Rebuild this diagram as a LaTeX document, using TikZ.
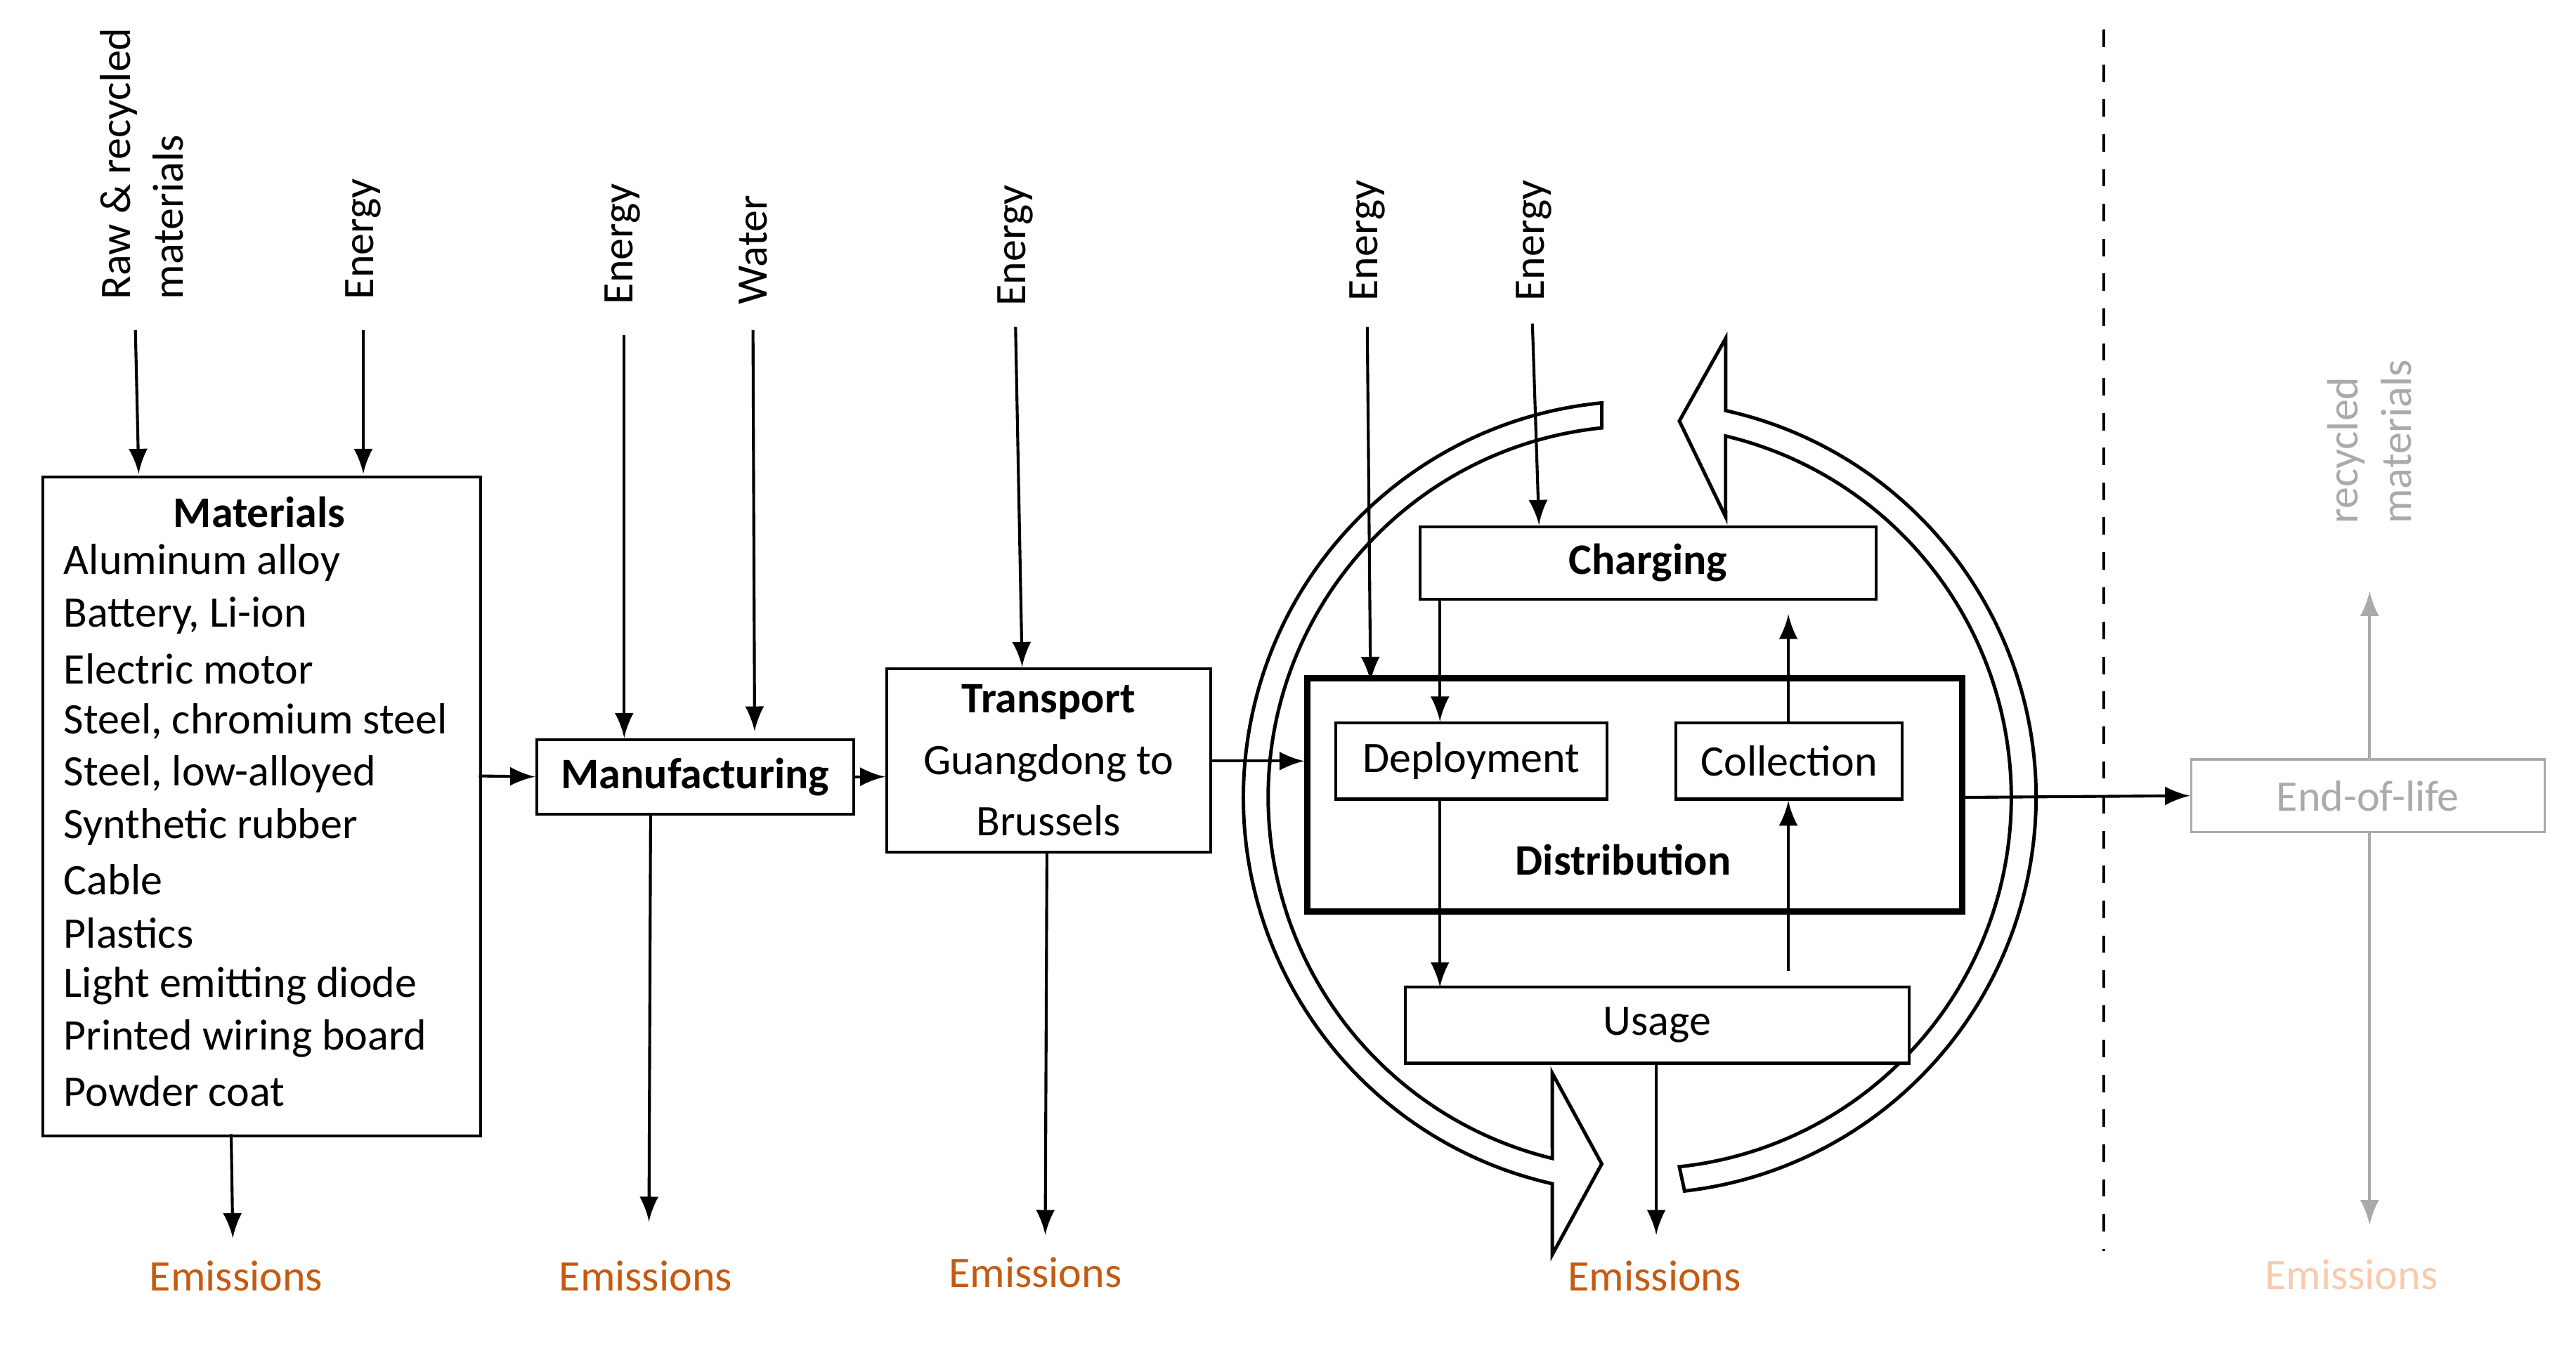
\documentclass[tikz,border=0pt]{standalone}
\usepackage{fontspec}
\setmainfont{Carlito}
\begin{document}
\begin{tikzpicture}[x=0.01cm,y=-0.01cm,
  every node/.style={font=\fontsize{7.5}{9.1}\selectfont, inner sep=0pt},
  box/.style={draw, line width=0.5pt},
  arr/.style={-latex, line width=0.5pt},
  lab/.style={rotate=90, anchor=west, align=left},
  em/.style={text=emc},
  gr/.style={draw=grayc}]
\definecolor{emc}{RGB}{197,90,17}
\definecolor{emlc}{RGB}{248,203,173}
\definecolor{grayc}{RGB}{170,170,170}
\useasboundingbox (0,0) rectangle (1560,815);
% circular arrows
\begin{scope}[shift={(993,483)}, yscale=-1, line width=0.6pt]
\draw[fill=white] (95.87:225) arc[start angle=95.87,end angle=256.4,radius=225] -- (-53,-167) -- (-23,-222) -- (-53,-277) -- (-53,-234) arc[start angle=257.24,end angle=95.5,radius=240] -- cycle;
\draw[fill=white] (276.12:225) arc[start angle=276.12,end angle=436.64,radius=225] -- (52,170) -- (24,228) -- (52,278) -- (52,234.3) arc[start angle=437.48,end angle=276.5,radius=240] -- cycle;
\end{scope}
% boxes
\node[box, minimum width=2.65cm, minimum height=3.99cm, anchor=north west] (mat) at (25,288) {};
\node[font=\fontsize{7.5}{9.1}\selectfont\bfseries] at (157,310) {Materials};
\foreach \t [count=\i from 0] in {Aluminum alloy,{Battery, Li-ion},Electric motor,{Steel, chromium steel},{Steel, low-alloyed},Synthetic rubber,Cable,Plastics,Light emitting diode,Printed wiring board,Powder coat}
  \node[anchor=west] at (38,341+32*\i) {\t};
\node[box, minimum width=1.92cm, minimum height=0.45cm, font=\fontsize{7.5}{9.1}\selectfont\bfseries] (man) at (421,470.5) {Manufacturing};
\node[box, minimum width=1.96cm, minimum height=1.11cm, align=center] (tra) at (635,460.5) {\textbf{Transport}\\[1.5pt]Guangdong to\\[1.5pt]Brussels};
\node[draw, line width=1.1pt, minimum width=3.96cm, minimum height=1.41cm] (dis) at (990,481.5) {};
\node[font=\fontsize{7.5}{9.1}\selectfont\bfseries] at (983,521) {Distribution};
\node[box, minimum width=1.64cm, minimum height=0.46cm] (dep) at (891,461) {Deployment};
\node[box, minimum width=1.37cm, minimum height=0.46cm] (col) at (1083.5,461) {Collection};
\node[box, fill=white, minimum width=2.76cm, minimum height=0.44cm, font=\fontsize{7.5}{9.1}\selectfont\bfseries] (cha) at (998,341) {Charging};
\node[box, fill=white, minimum width=3.05cm, minimum height=0.46cm] (usa) at (1003.5,621) {Usage};
\node[gr, minimum width=2.14cm, minimum height=0.44cm, text=grayc] (eol) at (1434,482) {End-of-life};
% labels
\node[lab] (l1) at (86,182) {Raw \& recycled\\materials};
\node[lab] (l2) at (220,182) {Energy};
\node[lab] (l3) at (377,185) {Energy};
\node[lab] (l4) at (456,185) {Water};
\node[lab] (l5) at (615,186) {Energy};
\node[lab] (l6) at (828,183) {Energy};
\node[lab] (l7) at (929,183) {Energy};
\node[lab, text=grayc] (l8) at (1435,318) {recycled\\materials};
\coordinate (c1) at (82,200); \coordinate (c2) at (220,200);
\coordinate (c3) at (378,203); \coordinate (c4) at (456,200);
\coordinate (c5) at (615,198); \coordinate (c6) at (828,198);
\coordinate (c7) at (928,196);
\draw[arr] (c1) -- (84,287);
\draw[arr] (c2) -- (220,287);
\draw[arr] (c3) -- (378,447);
\draw[arr] (c4) -- (457,443);
\draw[arr] (c5) -- (619,404);
\draw[arr] (c6) -- (830,413);
\draw[arr] (c7) -- (932,318);
% emissions
\node[em] (e1) at (143,773) {Emissions};
\node[em] (e2) at (391,773) {Emissions};
\node[em] (e3) at (627,771) {Emissions};
\node[em] (e4) at (1002,773) {Emissions};
\node[text=emlc] (e5) at (1424,772) {Emissions};
\draw[arr] (140,687) -- (141,750);
\draw[arr] (394,493) -- (393,740);
\draw[arr] (634,516) -- (633,748);
\draw[arr] (1003,644) -- (1003,748);
% flow
\draw[arr] (290,470) -- (man.west);
\draw[arr] (man.east) -- (tra.west |- man.east);
\draw[arr] (733,461) -- (dis.west |- 0,461);
\draw[arr] (872,363) -- (872,437);
\draw[arr] (872,484) -- (872,598);
\draw[arr] (1083,588) -- (1083,485);
\draw[arr] (1083,438) -- (1083,372);
\draw[arr] (1188,483) -- (eol.west);
\draw[-latex, draw=grayc, fill=grayc, line width=0.5pt] (1435,460) -- (1435,358);
\draw[-latex, draw=grayc, fill=grayc, line width=0.5pt] (1435,504) -- (1435,742);
\draw[dashed, line width=0.5pt] (1274,18) -- (1274,758);
\end{tikzpicture}
\end{document}
